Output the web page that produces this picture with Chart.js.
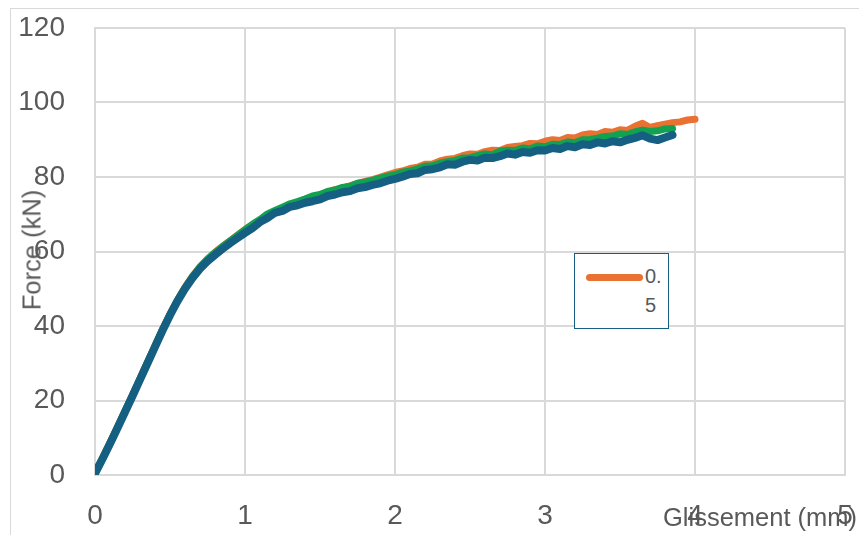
<!DOCTYPE html>
<html>
<head>
<meta charset="utf-8">
<script src="https://cdn.jsdelivr.net/npm/chart.js@4/dist/chart.umd.min.js"></script>
<style>
  body { margin: 0; background: #fff; }
  #wrap { position: relative; width: 859px; height: 535px; overflow: hidden; font-family: "Liberation Sans", Arial, sans-serif; }
  #frame { position: absolute; left: 10px; top: 8px; width: 900px; height: 600px; border-left: 1.5px solid #d9d9d9; border-top: 1.5px solid #d9d9d9; }
  canvas { position: absolute; left: 0; top: 0; }
  .title { position: absolute; color: #595959; font-size: 25.5px; white-space: nowrap; }
  #ytitle { left: 32px; top: 250px; transform: translate(-50%, -50%) rotate(-90deg); }
  #xtitle { left: 663px; top: 503px; }
  #legend { position: absolute; left: 574px; top: 253px; width: 93px; height: 74px; border: 1.5px solid #156082; background: #fff; }
  #legend .swatch { position: absolute; left: 11px; top: 20px; width: 57px; height: 7px; border-radius: 4px; background: #E97132; }
  #legend .lab { position: absolute; left: 70px; color: #595959; font-size: 20px; }
</style>
</head>
<body>
<div id="wrap">
  <div id="frame"></div>
  <canvas id="chart" width="859" height="535"></canvas>
  <div class="title" id="ytitle">Force (kN)</div>
  <div class="title" id="xtitle">Glissement (mm)</div>
  <div id="legend"><div class="swatch"></div><div class="lab" style="top:11px">0.</div><div class="lab" style="top:40px">5</div></div>
</div>
<script>
const glissement = [0, 0.05, 0.1, 0.15, 0.2, 0.25, 0.3, 0.35, 0.4, 0.45, 0.5, 0.55, 0.6, 0.65, 0.7, 0.75, 0.8, 0.85, 0.9, 0.95,
  1.0, 1.05, 1.1, 1.15, 1.2, 1.25, 1.3, 1.35, 1.4, 1.45, 1.5, 1.55, 1.6, 1.65, 1.7, 1.75, 1.8, 1.85, 1.9, 1.95,
  2.0, 2.05, 2.1, 2.15, 2.2, 2.25, 2.3, 2.35, 2.4, 2.45, 2.5, 2.55, 2.6, 2.65, 2.7, 2.75, 2.8, 2.85, 2.9, 2.95,
  3.0, 3.05, 3.1, 3.15, 3.2, 3.25, 3.3, 3.35, 3.4, 3.45, 3.5, 3.55, 3.6, 3.65, 3.7, 3.75, 3.8, 3.85, 3.9, 3.95, 4.0];

const forceOrange = [0.6, 4.6, 8.7, 12.9, 17.2, 21.5, 25.9, 30.3, 34.7, 39.1, 43.2, 47.0, 50.4, 53.4, 55.9, 58.0, 59.8, 61.4, 62.9, 64.4,
  65.9, 67.2, 68.4, 69.8, 70.8, 71.6, 72.6, 73.2, 74.0, 74.6, 75.2, 75.9, 76.6, 77.0, 77.6, 78.2, 78.8, 79.3, 79.9, 80.6,
  81.2, 81.6, 82.3, 82.6, 83.4, 83.5, 84.3, 84.8, 85.0, 85.7, 86.2, 86.1, 86.8, 87.2, 87.1, 87.9, 88.2, 88.4, 89.0, 88.9,
  89.6, 90.0, 89.8, 90.6, 90.5, 91.3, 91.6, 91.4, 92.2, 92.0, 92.7, 92.5, 93.6, 94.4, 93.3, 93.8, 94.2, 94.6, 94.8, 95.3, 95.5];

const forceGreen = [0.5, 4.5, 8.6, 12.8, 17.1, 21.4, 25.8, 30.2, 34.6, 39.0, 43.1, 46.9, 50.3, 53.3, 55.8, 57.9, 59.7, 61.3, 62.8, 64.3,
  65.8, 67.3, 68.6, 70.1, 71.0, 71.9, 72.8, 73.4, 74.1, 74.9, 75.3, 76.1, 76.5, 77.2, 77.5, 78.3, 78.6, 79.1, 79.7, 80.2,
  80.6, 81.3, 81.6, 82.2, 82.9, 83.0, 83.7, 84.1, 84.4, 85.1, 85.2, 85.7, 86.2, 86.0, 86.9, 87.2, 87.1, 87.8, 87.6, 88.3,
  88.1, 88.8, 88.7, 89.4, 89.2, 90.0, 90.1, 90.4, 90.9, 91.0, 91.6, 91.4, 92.1, 92.6, 92.2, 92.4, 92.9, 93.0];

const forceBlue = [0.4, 4.3, 8.4, 12.6, 16.9, 21.2, 25.6, 30.0, 34.4, 38.8, 42.9, 46.7, 50.0, 52.9, 55.4, 57.4, 59.1, 60.7, 62.2, 63.6,
  65.0, 66.3, 67.9, 69.0, 70.4, 70.9, 72.0, 72.4, 73.1, 73.5, 74.0, 74.9, 75.3, 75.9, 76.2, 77.0, 77.3, 77.9, 78.3, 79.0,
  79.5, 80.1, 80.8, 81.0, 81.9, 82.1, 82.6, 83.4, 83.3, 84.1, 84.6, 84.4, 85.2, 85.1, 85.6, 86.3, 86.0, 86.7, 86.5, 87.2,
  87.1, 87.8, 87.5, 88.3, 88.0, 88.8, 88.6, 89.3, 89.0, 89.6, 89.3, 90.0, 90.5, 91.2, 90.3, 89.9, 90.6, 91.3];

const xTicks = [0, 1, 2, 3, 4, 5];
const yTicks = [0, 20, 40, 60, 80, 100, 120];

function pts(ys) {
  return ys.map((y, i) => ({ x: glissement[i], y: y }));
}

const grey = '#d9d9d9';
const tickFont = { family: 'Liberation Sans', size: 28 };

new Chart(document.getElementById('chart').getContext('2d'), {
  type: 'line',
  data: {
    datasets: [
      { label: '0.5', data: pts(forceOrange), borderColor: '#E97132', borderWidth: 7, order: 3 },
      { label: 'b', data: pts(forceGreen), borderColor: '#12A150', borderWidth: 7, order: 2 },
      { label: 'c', data: pts(forceBlue), borderColor: '#156082', borderWidth: 8, order: 1 }
    ]
  },
  options: {
    responsive: false,
    animation: false,
    elements: { point: { radius: 0 }, line: { tension: 0, borderCapStyle: 'round', borderJoinStyle: 'round' } },
    layout: { padding: { top: 28, right: 14, left: 0, bottom: 0 } },
    plugins: { legend: { display: false }, tooltip: { enabled: false } },
    scales: {
      x: {
        type: 'linear', min: 0, max: 5,
        afterBuildTicks: s => { s.ticks = xTicks.map(v => ({ value: v })); },
        afterFit: s => { s.height = 60; s.paddingLeft = 0; s.paddingRight = 0; },
        grid: { color: grey, lineWidth: 2, drawTicks: false },
        border: { color: grey, width: 2 },
        ticks: { color: '#595959', font: tickFont, padding: 24, maxRotation: 0 }
      },
      y: {
        min: 0, max: 120,
        afterBuildTicks: s => { s.ticks = yTicks.map(v => ({ value: v })); },
        afterFit: s => { s.width = 95; s.paddingTop = 0; s.paddingBottom = 0; },
        grid: { color: grey, lineWidth: 2, drawTicks: false },
        border: { color: grey, width: 2 },
        ticks: { color: '#595959', font: tickFont, padding: 30 }
      }
    }
  }
});
</script>
</body>
</html>
